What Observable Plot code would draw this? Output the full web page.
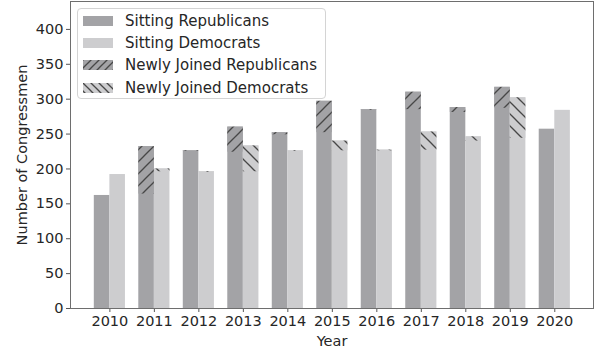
<!DOCTYPE html>
<html>
<head>
<meta charset="utf-8">
<script src="https://cdn.jsdelivr.net/npm/d3@7"></script>
<script src="https://cdn.jsdelivr.net/npm/@observablehq/plot@0.6"></script>
<style>
  body { margin: 0; background: #fff; }
  #chart { position: relative; width: 594px; height: 348px; font-family: "DejaVu Sans", sans-serif; color: #262626; }
  .legend { position: absolute; left: 77px; top: 8px; width: 249px; height: 91px; box-sizing: border-box;
            border: 1px solid #d4d4d4; border-radius: 4px; background: rgba(255,255,255,0.85); }
  .legend .row { position: absolute; left: 5px; height: 22px; display: flex; align-items: center; font-size: 15px; white-space: nowrap; }
  .legend svg { display: block; margin-right: 12px; }
</style>
</head>
<body>
<div id="chart"></div>
<script>
// Congress membership by year, split into sitting and newly joined members
const years       = [2010, 2011, 2012, 2013, 2014, 2015, 2016, 2017, 2018, 2019, 2020];
const sittingRep  = [162, 164, 225, 224, 249, 252, 284, 285, 281, 287, 257];
const newRep      = [0,   68,  1,   36,  3,   45,  1,   25,  7,   30,  0];
const sittingDem  = [192, 196, 195, 196, 225, 226, 226, 227, 240, 244, 284];
const newDem      = [0,   4,   1,   37,  1,   14,  1,   26,  6,   58,  0];
const yTicks      = [0, 50, 100, 150, 200, 250, 300, 350, 400];

const seriesNames = ["Sitting Republicans", "Sitting Democrats", "Newly Joined Republicans", "Newly Joined Democrats"];
const repColor = "#a3a3a6";
const demColor = "#cdcdcf";
const hatchColor = "#474747";
const barWidth = 0.35;

// Rows: a solid bar for the full total, plus a hatched overlay for the newly joined share
const bars = [];
const hatches = [];
years.forEach((year, i) => {
  const repTop = sittingRep[i] + newRep[i];
  const demTop = sittingDem[i] + newDem[i];
  bars.push({x1: year - barWidth, x2: year, y1: 0, y2: repTop, fill: repColor});
  bars.push({x1: year, x2: year + barWidth, y1: 0, y2: demTop, fill: demColor});
  if (newRep[i] > 0) hatches.push({x1: year - barWidth, x2: year, y1: sittingRep[i], y2: repTop, fill: "url(#hatch-rep)"});
  if (newDem[i] > 0) hatches.push({x1: year, x2: year + barWidth, y1: sittingDem[i], y2: demTop, fill: "url(#hatch-dem)"});
});

const chart = Plot.plot({
  width: 594,
  height: 348,
  marginLeft: 70,
  marginRight: 1,
  marginTop: 1,
  marginBottom: 40,
  style: {fontFamily: "DejaVu Sans, sans-serif", fontSize: "14.5px", color: "#262626", background: "#fff"},
  x: {type: "linear", domain: [2010 - 0.885, 2020 + 0.87]},
  y: {domain: [0, 440]},
  marks: [
    Plot.rect(bars, {x1: "x1", x2: "x2", y1: "y1", y2: "y2", fill: d => d.fill}),
    Plot.rect(hatches, {x1: "x1", x2: "x2", y1: "y1", y2: "y2", fill: d => d.fill}),
    Plot.axisX({ticks: years, tickFormat: d => `${d}`, tickSize: 4, tickPadding: 3, stroke: "#555",
                label: "Year", labelAnchor: "center", labelOffset: 37, labelArrow: "none"}),
    Plot.axisY({ticks: yTicks, tickFormat: d => `${d}`, tickSize: 4, tickPadding: 3, stroke: "#555",
                label: "Number of Congressmen", labelAnchor: "center", labelOffset: 54, labelArrow: "none"}),
    Plot.frame({stroke: "#6e6e6e"})
  ]
});

// Hatch patterns: forward slashes for Republicans, back slashes for Democrats
function addPatterns(svgNode, prefix, step) {
  const defs = d3.select(svgNode).insert("defs", ":first-child");
  const make = (id, base, dir) => {
    const p = defs.append("pattern").attr("id", prefix + id).attr("patternUnits", "userSpaceOnUse")
      .attr("width", step).attr("height", step);
    p.append("rect").attr("width", step).attr("height", step).attr("fill", base);
    const segs = dir > 0
      ? [[0, step, step, 0], [-2, 2, 2, -2], [step - 2, step + 2, step + 2, step - 2]]
      : [[0, 0, step, step], [-2, step - 2, 2, step + 2], [step - 2, -2, step + 2, 2]];
    segs.forEach(([x1, y1, x2, y2]) => p.append("line").attr("x1", x1).attr("y1", y1).attr("x2", x2).attr("y2", y2)
      .attr("stroke", hatchColor).attr("stroke-width", 1.3));
  };
  make("rep", repColor, 1);
  make("dem", demColor, -1);
}
addPatterns(chart, "hatch-", 12);

const root = document.getElementById("chart");
root.appendChild(chart);

// Legend box inside the plot area
const legend = document.createElement("div");
legend.className = "legend";
const swatchFills = [repColor, demColor, "url(#lg-rep)", "url(#lg-dem)"];
const rowTops = [1, 23, 44.5, 67.5];
seriesNames.forEach((name, i) => {
  const row = document.createElement("div");
  row.className = "row";
  row.style.top = rowTops[i] + "px";
  const sw = d3.create("svg").attr("width", 30).attr("height", 10);
  if (i === 2) addPatterns(sw.node(), "lg-", 8);
  sw.append("rect").attr("width", 30).attr("height", 10).attr("fill", swatchFills[i]);
  row.appendChild(sw.node());
  const label = document.createElement("span");
  label.textContent = name;
  row.appendChild(label);
  legend.appendChild(row);
});
root.appendChild(legend);
</script>
</body>
</html>
